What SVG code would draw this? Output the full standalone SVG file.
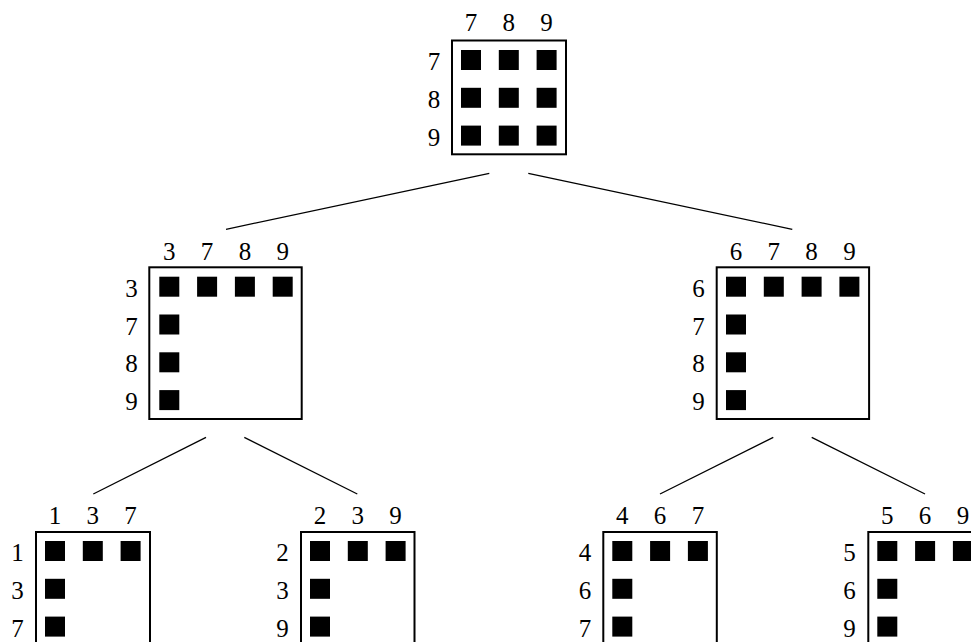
<svg xmlns="http://www.w3.org/2000/svg" width="971" height="642" viewBox="0 0 971 642">
<style>
.box{fill:#fff;stroke:#000;stroke-width:2}
.sq{fill:#000}
.lbl{font-family:'Liberation Serif','DejaVu Serif','Times New Roman',serif;font-size:25px;fill:#000;text-anchor:middle}
.edge{stroke:#000;stroke-width:1.3;fill:none}
</style>
<rect width="971" height="642" fill="#fff"/>
<g id="connectors">
<line class="edge" x1="489.3" y1="173.3" x2="226" y2="229.3"/>
<line class="edge" x1="528.3" y1="173.3" x2="792.3" y2="229.3"/>
<line class="edge" x1="206" y1="437.3" x2="93.3" y2="494"/>
<line class="edge" x1="244.3" y1="437.3" x2="357.3" y2="494"/>
<line class="edge" x1="773.3" y1="437.3" x2="660" y2="494"/>
<line class="edge" x1="811.7" y1="437.3" x2="925" y2="494"/>
</g>
<g id="node-789" font-family="Liberation Serif, serif">
<rect class="box" x="452" y="40.5" width="114" height="113.8"/>
<rect class="sq" x="461" y="50" width="20" height="20"/>
<rect class="sq" x="498.8" y="50" width="20" height="20"/>
<rect class="sq" x="536.6" y="50" width="20" height="20"/>
<rect class="sq" x="461" y="87.8" width="20" height="20"/>
<rect class="sq" x="498.8" y="87.8" width="20" height="20"/>
<rect class="sq" x="536.6" y="87.8" width="20" height="20"/>
<rect class="sq" x="461" y="125.6" width="20" height="20"/>
<rect class="sq" x="498.8" y="125.6" width="20" height="20"/>
<rect class="sq" x="536.6" y="125.6" width="20" height="20"/>
<text class="lbl" x="471" y="31">7</text>
<text class="lbl" x="508.8" y="31">8</text>
<text class="lbl" x="546.6" y="31">9</text>
<text class="lbl" x="434" y="70">7</text>
<text class="lbl" x="434" y="107.8">8</text>
<text class="lbl" x="434" y="145.6">9</text>
</g>
<g id="node-3789">
<rect class="box" x="149.3" y="267.3" width="152.4" height="151.7"/>
<rect class="sq" x="159.3" y="276.7" width="20" height="20"/>
<rect class="sq" x="197.1" y="276.7" width="20" height="20"/>
<rect class="sq" x="234.9" y="276.7" width="20" height="20"/>
<rect class="sq" x="272.7" y="276.7" width="20" height="20"/>
<rect class="sq" x="159.3" y="314.5" width="20" height="20"/>
<rect class="sq" x="159.3" y="352.3" width="20" height="20"/>
<rect class="sq" x="159.3" y="390.1" width="20" height="20"/>
<text class="lbl" x="169.3" y="260">3</text>
<text class="lbl" x="207.1" y="260">7</text>
<text class="lbl" x="244.9" y="260">8</text>
<text class="lbl" x="282.7" y="260">9</text>
<text class="lbl" x="131.5" y="296.7">3</text>
<text class="lbl" x="131.5" y="334.5">7</text>
<text class="lbl" x="131.5" y="372.3">8</text>
<text class="lbl" x="131.5" y="410.1">9</text>
</g>
<g id="node-6789">
<rect class="box" x="716.7" y="267.3" width="152.4" height="151.7"/>
<rect class="sq" x="726" y="276.7" width="20" height="20"/>
<rect class="sq" x="763.8" y="276.7" width="20" height="20"/>
<rect class="sq" x="801.6" y="276.7" width="20" height="20"/>
<rect class="sq" x="839.4" y="276.7" width="20" height="20"/>
<rect class="sq" x="726" y="314.5" width="20" height="20"/>
<rect class="sq" x="726" y="352.3" width="20" height="20"/>
<rect class="sq" x="726" y="390.1" width="20" height="20"/>
<text class="lbl" x="736" y="260">6</text>
<text class="lbl" x="773.8" y="260">7</text>
<text class="lbl" x="811.6" y="260">8</text>
<text class="lbl" x="849.4" y="260">9</text>
<text class="lbl" x="698.5" y="296.7">6</text>
<text class="lbl" x="698.5" y="334.5">7</text>
<text class="lbl" x="698.5" y="372.3">8</text>
<text class="lbl" x="698.5" y="410.1">9</text>
</g>
<g id="node-137">
<rect class="box" x="36" y="532" width="114" height="114"/>
<rect class="sq" x="45" y="541" width="20" height="20"/>
<rect class="sq" x="82.8" y="541" width="20" height="20"/>
<rect class="sq" x="120.6" y="541" width="20" height="20"/>
<rect class="sq" x="45" y="578.8" width="20" height="20"/>
<rect class="sq" x="45" y="616.6" width="20" height="20"/>
<text class="lbl" x="55" y="523.5">1</text>
<text class="lbl" x="92.8" y="523.5">3</text>
<text class="lbl" x="130.6" y="523.5">7</text>
<text class="lbl" x="17.5" y="561">1</text>
<text class="lbl" x="17.5" y="598.8">3</text>
<text class="lbl" x="17.5" y="636.6">7</text>
</g>
<g id="node-239">
<rect class="box" x="301" y="532" width="113.5" height="114"/>
<rect class="sq" x="310" y="541" width="20" height="20"/>
<rect class="sq" x="347.8" y="541" width="20" height="20"/>
<rect class="sq" x="385.6" y="541" width="20" height="20"/>
<rect class="sq" x="310" y="578.8" width="20" height="20"/>
<rect class="sq" x="310" y="616.6" width="20" height="20"/>
<text class="lbl" x="320" y="523.5">2</text>
<text class="lbl" x="357.8" y="523.5">3</text>
<text class="lbl" x="395.6" y="523.5">9</text>
<text class="lbl" x="282.5" y="561">2</text>
<text class="lbl" x="282.5" y="598.8">3</text>
<text class="lbl" x="282.5" y="636.6">9</text>
</g>
<g id="node-467">
<rect class="box" x="603.3" y="532" width="113.5" height="114"/>
<rect class="sq" x="612.3" y="541" width="20" height="20"/>
<rect class="sq" x="650.1" y="541" width="20" height="20"/>
<rect class="sq" x="687.9" y="541" width="20" height="20"/>
<rect class="sq" x="612.3" y="578.8" width="20" height="20"/>
<rect class="sq" x="612.3" y="616.6" width="20" height="20"/>
<text class="lbl" x="622.3" y="523.5">4</text>
<text class="lbl" x="660.1" y="523.5">6</text>
<text class="lbl" x="697.9" y="523.5">7</text>
<text class="lbl" x="585" y="561">4</text>
<text class="lbl" x="585" y="598.8">6</text>
<text class="lbl" x="585" y="636.6">7</text>
</g>
<g id="node-569">
<rect class="box" x="868.3" y="532" width="113.5" height="114"/>
<rect class="sq" x="877.3" y="541" width="20" height="20"/>
<rect class="sq" x="915.1" y="541" width="20" height="20"/>
<rect class="sq" x="952.9" y="541" width="20" height="20"/>
<rect class="sq" x="877.3" y="578.8" width="20" height="20"/>
<rect class="sq" x="877.3" y="616.6" width="20" height="20"/>
<text class="lbl" x="887.3" y="523.5">5</text>
<text class="lbl" x="925.1" y="523.5">6</text>
<text class="lbl" x="962.9" y="523.5">9</text>
<text class="lbl" x="849.5" y="561">5</text>
<text class="lbl" x="849.5" y="598.8">6</text>
<text class="lbl" x="849.5" y="636.6">9</text>
</g>
</svg>
